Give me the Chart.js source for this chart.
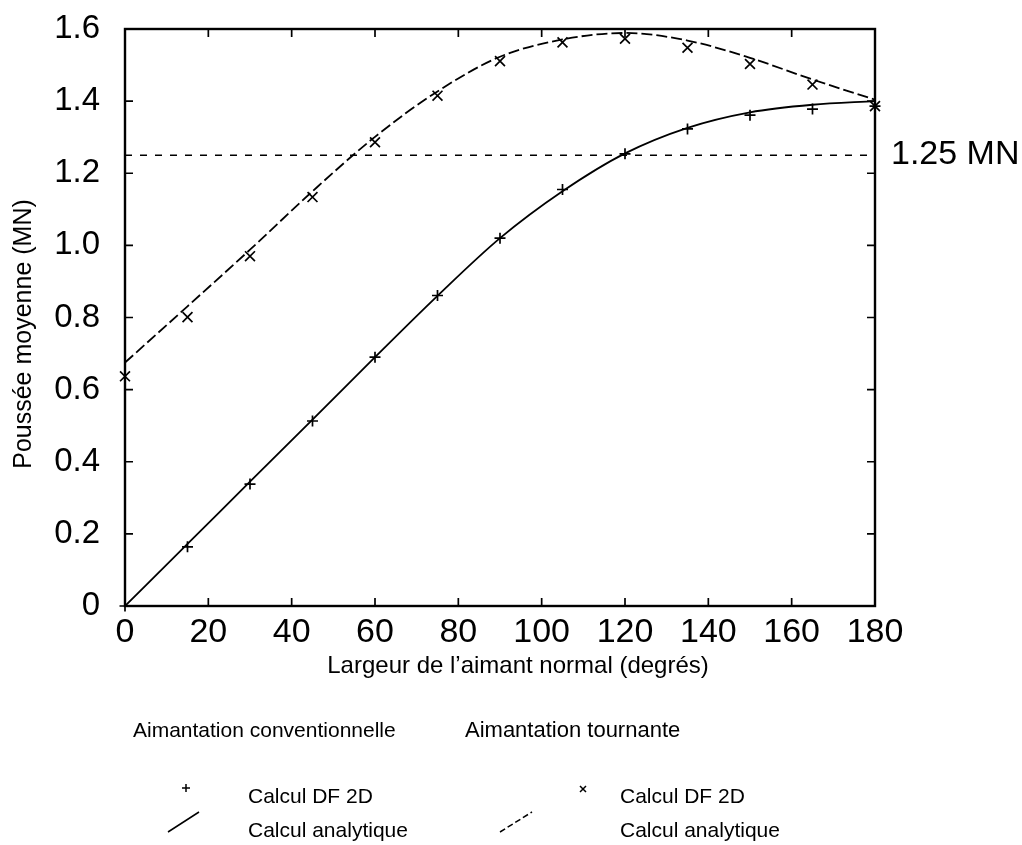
<!DOCTYPE html>
<html><head><meta charset="utf-8">
<script src="https://cdn.jsdelivr.net/npm/chart.js@4.4.1/dist/chart.umd.min.js"></script>
<style>html,body{margin:0;padding:0;background:#fff;}#wrap{width:1022px;height:845px;}</style>
</head><body><div id="wrap"><canvas id="c" width="1022" height="845"></canvas></div>
<script>
// ---- data ----
const angles = [0, 15, 30, 45, 60, 75, 90, 105, 120, 135, 150, 165, 180];
const conventionalFD = [0, 0.164, 0.338, 0.513, 0.690, 0.861, 1.020, 1.155, 1.254, 1.323, 1.361, 1.378, 1.386];
const rotatingFD = [0.637, 0.801, 0.970, 1.134, 1.286, 1.415, 1.511, 1.563, 1.573, 1.548, 1.503, 1.446, 1.386];
const conventionalAnalytic = [0, 0.172, 0.345, 0.517, 0.690, 0.860, 1.020, 1.150, 1.255, 1.326, 1.369, 1.390, 1.400];
const rotatingAnalytic = [0.675, 0.831, 0.988, 1.150, 1.301, 1.427, 1.523, 1.571, 1.589, 1.568, 1.520, 1.460, 1.404];
const thresholdX = [0, 180];
const thresholdY = [1.25, 1.25];
const xTicks = [0, 20, 40, 60, 80, 100, 120, 140, 160, 180];
const yTicks = [0, 0.2, 0.4, 0.6, 0.8, 1.0, 1.2, 1.4, 1.6];
const xTitle = 'Largeur de l’aimant normal (degrés)';
const yTitle = 'Poussée moyenne (MN)';
const thresholdLabel = '1.25 MN';
const groupLabels = ['Aimantation conventionnelle', 'Aimantation tournante'];
const fdLabel = 'Calcul DF 2D';
const analyticLabel = 'Calcul analytique';

const pts = (xs, ys) => xs.map((x, i) => ({x: x, y: ys[i]}));
const FONT = '"Liberation Sans", Arial, sans-serif';

const framePlugin = {
  id: 'frame',
  beforeDatasetsDraw(chart) {
    const {ctx, chartArea: a, scales: {x, y}} = chart;
    ctx.save();
    ctx.strokeStyle = '#000';
    ctx.lineWidth = 2.4;
    ctx.strokeRect(a.left, a.top, a.right - a.left, a.bottom - a.top);
    ctx.lineWidth = 1.7;
    ctx.beginPath();
    xTicks.forEach(v => {
      const px = x.getPixelForValue(v);
      ctx.moveTo(px, a.bottom); ctx.lineTo(px, a.bottom - 8);
      ctx.moveTo(px, a.top); ctx.lineTo(px, a.top + 8);
    });
    yTicks.forEach(v => {
      const py = y.getPixelForValue(v);
      ctx.moveTo(a.left, py); ctx.lineTo(a.left + 8, py);
      ctx.moveTo(a.right, py); ctx.lineTo(a.right - 8, py);
    });
    ctx.stroke();
    ctx.restore();
  },
  afterDraw(chart) {
    const {ctx, chartArea: a, scales: {y}} = chart;
    ctx.save();
    ctx.fillStyle = '#000';
    ctx.strokeStyle = '#000';
    ctx.textBaseline = 'middle';

    // threshold annotation
    ctx.textAlign = 'left';
    ctx.font = '34px ' + FONT;
    ctx.fillText(thresholdLabel, a.right + 16, y.getPixelForValue(1.25) - 1);

    // axis titles
    ctx.textAlign = 'center';
    ctx.font = '24px ' + FONT;
    ctx.fillText(xTitle, 518, 666);
    ctx.save();
    ctx.translate(24, 334);
    ctx.rotate(-Math.PI / 2);
    ctx.font = '25px ' + FONT;
    ctx.fillText(yTitle, 0, 0);
    ctx.restore();

    // legend block
    ctx.textAlign = 'left';
    ctx.font = '21px ' + FONT;
    ctx.fillText(groupLabels[0], 133, 731);
    ctx.font = '22px ' + FONT;
    ctx.fillText(groupLabels[1], 465, 731);
    ctx.font = '21px ' + FONT;
    ctx.fillText(fdLabel, 248, 797);
    ctx.fillText(fdLabel, 620, 797);
    ctx.fillText(analyticLabel, 248, 831);
    ctx.fillText(analyticLabel, 620, 831);

    ctx.lineWidth = 1.5;
    ctx.beginPath();
    ctx.moveTo(182, 788); ctx.lineTo(190, 788);
    ctx.moveTo(186, 784); ctx.lineTo(186, 792);
    ctx.moveTo(580, 786); ctx.lineTo(586, 792);
    ctx.moveTo(586, 786); ctx.lineTo(580, 792);
    ctx.moveTo(168, 832); ctx.lineTo(199, 812);
    ctx.stroke();
    ctx.setLineDash([6, 3]);
    ctx.beginPath();
    ctx.moveTo(500, 832); ctx.lineTo(532, 812);
    ctx.stroke();
    ctx.restore();
  }
};

new Chart(document.getElementById('c'), {
  type: 'scatter',
  data: {
    datasets: [
      {label: 'seuil', type: 'line', data: pts(thresholdX, thresholdY), borderColor: '#000', borderWidth: 1.6,
       borderDash: [7, 8], pointRadius: 0, fill: false},
      {label: analyticLabel + ' conv', type: 'line', data: pts(angles, conventionalAnalytic), borderColor: '#000',
       borderWidth: 1.8, pointRadius: 0, cubicInterpolationMode: 'monotone', fill: false},
      {label: analyticLabel + ' rot', type: 'line', data: pts(angles, rotatingAnalytic), borderColor: '#000',
       borderWidth: 1.8, borderDash: [11, 4], pointRadius: 0, cubicInterpolationMode: 'monotone', fill: false},
      {label: fdLabel + ' conv', data: pts(angles, conventionalFD), pointStyle: 'cross', pointRadius: 5.5,
       borderColor: '#000', backgroundColor: '#000', pointBorderWidth: 1.7, clip: false},
      {label: fdLabel + ' rot', data: pts(angles, rotatingFD), pointStyle: 'crossRot', pointRadius: 7,
       borderColor: '#000', backgroundColor: '#000', pointBorderWidth: 1.7, clip: false}
    ]
  },
  options: {
    responsive: false,
    animation: false,
    devicePixelRatio: 1,
    layout: {padding: {left: 0, right: 147, top: 29, bottom: 159}},
    plugins: {legend: {display: false}, tooltip: {enabled: false}},
    scales: {
      x: {
        type: 'linear', min: 0, max: 180,
        afterFit: s => { s.height = 80; s.paddingLeft = 0; s.paddingRight = 0; },
        afterBuildTicks: s => { s.ticks = xTicks.map(v => ({value: v})); },
        grid: {display: false, drawTicks: false},
        border: {display: false},
        ticks: {autoSkip: false, maxRotation: 0, padding: 6, color: '#000', font: {family: FONT, size: 34},
                callback: v => String(v)},
        title: {display: false, text: xTitle}
      },
      y: {
        type: 'linear', min: 0, max: 1.6,
        afterFit: s => { s.width = 125; s.paddingTop = 0; s.paddingBottom = 0; },
        afterBuildTicks: s => { s.ticks = yTicks.map(v => ({value: v})); },
        grid: {display: false, drawTicks: false},
        border: {display: false},
        ticks: {padding: 25, color: '#000', font: {family: FONT, size: 33},
                callback: v => (v === 0 ? '0' : v.toFixed(1))},
        title: {display: false, text: yTitle}
      }
    }
  },
  plugins: [framePlugin]
});
</script>
</body></html>
